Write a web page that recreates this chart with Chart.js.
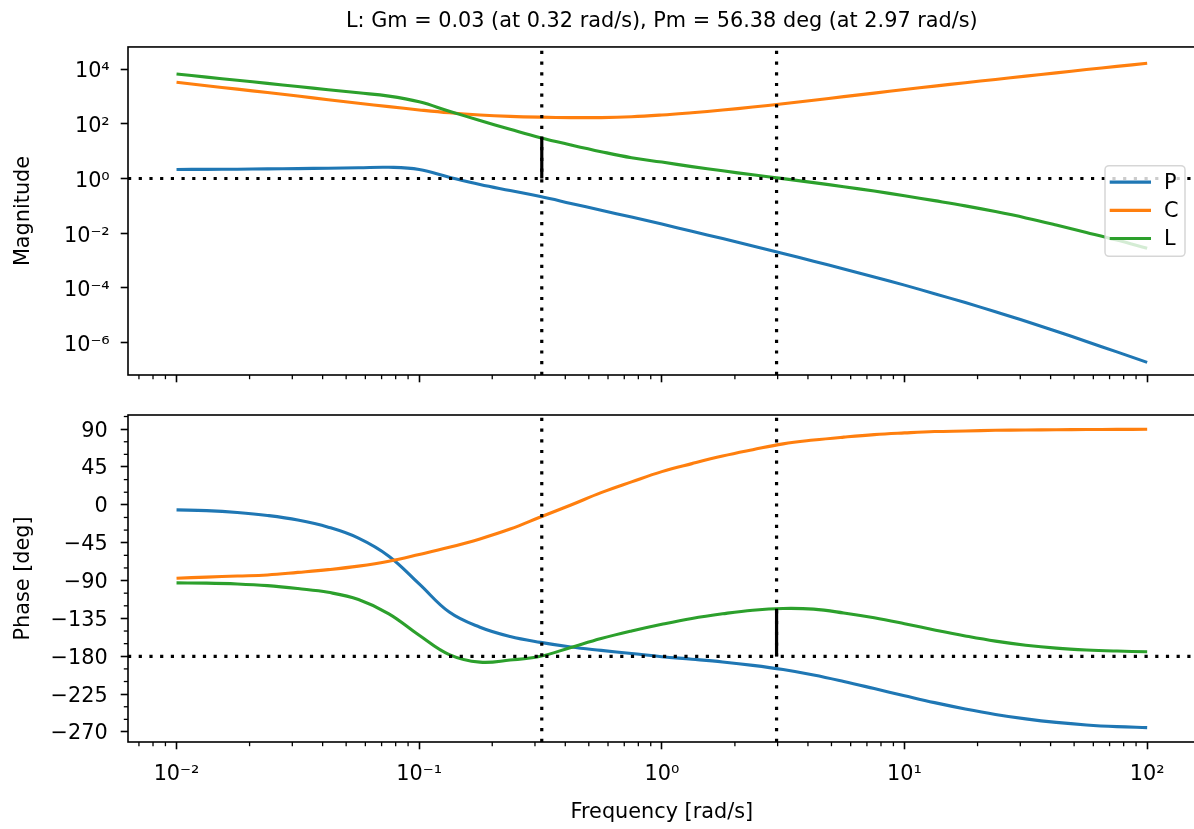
<!DOCTYPE html>
<html>
<head>
<meta charset="utf-8">
<script src="https://cdn.jsdelivr.net/npm/chart.js@4.4.0/dist/chart.umd.min.js"></script>
<style>
  html, body { margin: 0; padding: 0; background: #fff; overflow: hidden; }
  #wrap { position: relative; width: 1194px; height: 829px; overflow: hidden; }
  canvas { position: absolute; left: 0; }
  #magChart { top: 0; }
  #phaseChart { top: 395px; }
</style>
</head>
<body>
<div id="wrap">
  <canvas id="magChart" width="1200" height="395"></canvas>
  <canvas id="phaseChart" width="1200" height="434"></canvas>
</div>
<script>
// frequency grid [rad/s], 8 points per decade
const freqs = [0.01, 0.0133, 0.0178, 0.0237, 0.0316, 0.0422, 0.0562, 0.075,
  0.1, 0.133, 0.178, 0.237, 0.316, 0.422, 0.562, 0.75,
  1, 1.33, 1.78, 2.37, 3.16, 4.22, 5.62, 7.5,
  10, 13.3, 17.8, 23.7, 31.6, 42.2, 56.2, 75, 100];

// magnitudes
const magP = [2.14, 2.16, 2.19, 2.24, 2.30, 2.38, 2.47, 2.57,
  2.14, 1.12, 0.603, 0.363, 0.219, 0.123, 0.0692, 0.0389,
  0.0216, 0.01175, 0.00638, 0.00343, 0.00182, 0.000955, 0.000495, 0.000254,
  0.000127, 6.17e-5, 2.92e-5, 1.35e-5, 6.10e-6, 2.63e-6, 1.11e-6, 4.62e-7, 1.91e-7];
const magC = [3273, 2455, 1841, 1380, 1035, 750, 562, 422,
  320, 251, 209, 186, 174, 168, 168, 180,
  209, 254, 316, 407, 537, 724, 977, 1318,
  1778, 2371, 3162, 4169, 5495, 7244, 9550, 12450, 16220];
const magL = [6607, 5070, 3890, 2985, 2291, 1758, 1349, 1023,
  631, 288, 132, 63.1, 30.9, 16.8, 9.55, 5.75,
  3.98, 2.72, 1.905, 1.365, 0.989, 0.708, 0.501, 0.347,
  0.234, 0.155, 0.1, 0.0617, 0.0363, 0.0200, 0.0107, 0.00562, 0.00282];

// phases [deg]
const phaseP = [-6.0, -6.9, -9.1, -12.6, -18, -26.5, -39.5, -61,
  -94, -127.5, -145.5, -156.5, -163.5, -169, -173, -176.7,
  -180.5, -183.5, -186.8, -190.8, -195.8, -202.3, -210, -218.4,
  -226.9, -235.1, -242.6, -249.1, -254.4, -258.6, -261.6, -263.6, -264.8];
const phaseC = [-87.2, -85.9, -84.6, -83.3, -80.3, -77, -72.8, -67,
  -59, -50.5, -40.5, -28.8, -14.5, -0.2, 14.5, 27.3,
  39.5, 49, 58, 65.5, 72.5, 77, 80.5, 83.5,
  85.5, 87.1, 87.8, 88.6, 88.9, 89.3, 89.5, 89.7, 89.8];
const phaseL = [-92.8, -93, -94, -96, -99.5, -104, -112.5, -129.5,
  -155, -178, -187, -184.5, -180, -169.5, -159, -150,
  -142, -135, -129.5, -125.2, -123.2, -124, -128.5, -134.3,
  -141.3, -148.7, -155.8, -162, -166.8, -170.3, -172.5, -173.8, -174.6];

const seriesNames = ['P', 'C', 'L'];

// stability margins of L
const gmFreq = 0.32, gmValue = 0.0325;
const pmFreq = 2.97, pmValue = 56.38;

const xTicks = [0.01, 0.1, 1, 10, 100];
const xTickLabels = ['10⁻²', '10⁻¹', '10⁰', '10¹', '10²'];
const magTicks = [1e-6, 1e-4, 1e-2, 1, 1e2, 1e4];
const magTickLabels = ['10⁻⁶', '10⁻⁴', '10⁻²', '10⁰', '10²', '10⁴'];
const phaseTicks = [-270, -225, -180, -135, -90, -45, 0, 45, 90];

// axis limits
const X_MIN = Math.pow(10, -2.2), X_MAX = Math.pow(10, 2.2);
const MAG_MIN = Math.pow(10, -7.18), MAG_MAX = Math.pow(10, 4.806);
const PH_MIN = -281.9, PH_MAX = 106.8;

const colors = ['#1f77b4', '#ff7f0e', '#2ca02c'];
const FS = 20.8;

Chart.defaults.font.family = "'DejaVu Sans'";
Chart.defaults.font.size = FS;
Chart.defaults.color = '#000';
Chart.defaults.plugins.legend.display = false;
Chart.defaults.plugins.tooltip.enabled = false;
Chart.defaults.elements.point.radius = 0;

const xMinor = [];
for (let e = -3; e <= 2; e++) for (let m = 2; m <= 9; m++) xMinor.push(m * Math.pow(10, e));
const phaseMinor = [];
for (let v = -285; v <= 105; v += 15) if (v % 45 !== 0) phaseMinor.push(v);

const minorTicks = {
  magChart: { x: xMinor },
  phaseChart: { x: xMinor, y: phaseMinor }
};

// axes box + minor tick marks
const framePlugin = {
  id: 'frame',
  afterDatasetsDraw(chart) {
    const { ctx, chartArea: a } = chart;
    ctx.save();
    ctx.strokeStyle = '#000';
    ctx.lineWidth = 1.3;
    const minor = minorTicks[chart.canvas.id] || {};
    Object.keys(minor).forEach(id => {
      const s = chart.scales[id];
      minor[id].forEach(v => {
        if (v < s.min || v > s.max) return;
        const p = s.getPixelForValue(v);
        ctx.beginPath();
        if (s.isHorizontal()) { ctx.moveTo(p, a.bottom); ctx.lineTo(p, a.bottom + 4.2); }
        else { ctx.moveTo(a.left, p); ctx.lineTo(a.left - 4.2, p); }
        ctx.stroke();
      });
    });
    ctx.lineWidth = 1.6;
    ctx.strokeRect(a.left, a.top, a.right - a.left, a.bottom - a.top);
    ctx.restore();
  }
};

// matplotlib-like legend, 'center right'
const legendPlugin = {
  id: 'boxLegend',
  afterDraw(chart) {
    if (chart.canvas.id !== 'magChart') return;
    const { ctx, chartArea: a } = chart;
    const items = chart.data.datasets.filter(d => d.inLegend);
    const rowH = 28.2, w = 80, h = 90.7;
    const x0 = a.right - 10.7 - w;
    const y0 = (a.top + a.bottom) / 2 - h / 2;
    ctx.save();
    ctx.beginPath();
    if (ctx.roundRect) ctx.roundRect(x0, y0, w, h, 4); else ctx.rect(x0, y0, w, h);
    ctx.fillStyle = 'rgba(255,255,255,0.8)';
    ctx.fill();
    ctx.strokeStyle = 'rgba(204,204,204,0.8)';
    ctx.lineWidth = 1.5;
    ctx.stroke();
    ctx.font = FS + "px 'DejaVu Sans'";
    ctx.textBaseline = 'middle';
    ctx.textAlign = 'left';
    items.forEach((d, i) => {
      const yy = y0 + 16.5 + i * rowH;
      ctx.beginPath();
      ctx.strokeStyle = d.borderColor;
      ctx.lineWidth = 3.1;
      ctx.moveTo(x0 + 4.7, yy);
      ctx.lineTo(x0 + 46, yy);
      ctx.stroke();
      ctx.fillStyle = '#000';
      ctx.fillText(d.label, x0 + 59, yy + 1);
    });
    ctx.restore();
  }
};

function curve(i, values) {
  return {
    label: seriesNames[i],
    data: freqs.map((f, k) => ({ x: f, y: values[k] })),
    borderColor: colors[i],
    borderWidth: 3.1,
    tension: 0.4,
    order: 10 - i,
    inLegend: true
  };
}

function refLine(points, dotted) {
  return {
    data: points,
    borderColor: '#000',
    borderWidth: 3.2,
    borderDash: dotted ? [3.2, 7.5] : [],
    borderCapStyle: 'butt',
    tension: 0,
    order: dotted ? 5 : 4
  };
}

function xScale(showLabels) {
  return {
    type: 'logarithmic',
    min: X_MIN,
    max: X_MAX,
    afterBuildTicks: s => { s.ticks = xTicks.map(v => ({ value: v })); },
    afterFit: s => { s.height = showLabels ? 87 : 20; s.paddingLeft = 0; s.paddingRight = 0; },
    border: { display: false },
    grid: { drawOnChartArea: false, drawTicks: true, tickLength: 7.3, tickWidth: 1.6, tickColor: '#000', color: '#000' },
    ticks: {
      display: showLabels, padding: 13, maxRotation: 0, autoSkip: false, color: '#000',
      callback: (v, i) => xTickLabels[i]
    },
    title: { display: showLabels, text: 'Frequency [rad/s]', color: '#000', padding: { top: 0, bottom: 3.5 } }
  };
}

function yScale(cfg) {
  return Object.assign({
    afterFit: s => { s.width = 128; s.paddingTop = 0; s.paddingBottom = 0; },
    border: { display: false },
    grid: { drawOnChartArea: false, drawTicks: true, tickLength: 7.3, tickWidth: 1.6, tickColor: '#000', color: '#000' }
  }, cfg);
}

const titleText = 'L: Gm = ' + gmValue.toFixed(2) + ' (at ' + gmFreq.toFixed(2) + ' rad/s), Pm = ' +
  pmValue.toFixed(2) + ' deg (at ' + pmFreq.toFixed(2) + ' rad/s)';

new Chart(document.getElementById('magChart'), {
  type: 'line',
  data: {
    datasets: [
      curve(0, magP), curve(1, magC), curve(2, magL),
      refLine([{ x: X_MIN, y: 1 }, { x: X_MAX, y: 1 }], true),
      refLine([{ x: gmFreq, y: MAG_MIN }, { x: gmFreq, y: MAG_MAX }], true),
      refLine([{ x: pmFreq, y: MAG_MIN }, { x: pmFreq, y: MAG_MAX }], true),
      refLine([{ x: gmFreq, y: 1 }, { x: gmFreq, y: 1 / gmValue }], false)
    ]
  },
  options: {
    responsive: false,
    animation: false,
    events: [],
    devicePixelRatio: 1,
    layout: { padding: { left: 0, right: 4.3, top: 0, bottom: 0 } },
    plugins: {
      title: {
        display: true, text: titleText, fullSize: false, color: '#000',
        font: { size: FS, weight: 'normal' }, padding: { top: 9.5, bottom: 12.5 }
      }
    },
    scales: {
      x: xScale(false),
      y: yScale({
        type: 'logarithmic',
        min: MAG_MIN,
        max: MAG_MAX,
        afterBuildTicks: s => { s.ticks = magTicks.map(v => ({ value: v })); },
        ticks: { padding: 11, labelOffset: 3, autoSkip: false, color: '#000', callback: (v, i) => magTickLabels[i] },
        title: { display: true, text: 'Magnitude', color: '#000', padding: { top: 11, bottom: 0 } }
      })
    }
  },
  plugins: [framePlugin, legendPlugin]
});

new Chart(document.getElementById('phaseChart'), {
  type: 'line',
  data: {
    datasets: [
      curve(0, phaseP), curve(1, phaseC), curve(2, phaseL),
      refLine([{ x: X_MIN, y: -180 }, { x: X_MAX, y: -180 }], true),
      refLine([{ x: gmFreq, y: PH_MIN }, { x: gmFreq, y: PH_MAX }], true),
      refLine([{ x: pmFreq, y: PH_MIN }, { x: pmFreq, y: PH_MAX }], true),
      refLine([{ x: pmFreq, y: -180 }, { x: pmFreq, y: -180 + pmValue }], false)
    ]
  },
  options: {
    responsive: false,
    animation: false,
    events: [],
    devicePixelRatio: 1,
    layout: { padding: { left: 0, right: 4.3, top: 20, bottom: 0 } },
    scales: {
      x: xScale(true),
      y: yScale({
        type: 'linear',
        min: PH_MIN,
        max: PH_MAX,
        afterBuildTicks: s => { s.ticks = phaseTicks.map(v => ({ value: v })); },
        ticks: {
          padding: 13, labelOffset: 2, autoSkip: false, color: '#000',
          callback: v => (v < 0 ? '\u2212' + Math.abs(v) : String(v))
        },
        title: { display: true, text: 'Phase [deg]', color: '#000', padding: { top: 11, bottom: 0 } }
      })
    }
  },
  plugins: [framePlugin]
});
</script>
</body>
</html>
